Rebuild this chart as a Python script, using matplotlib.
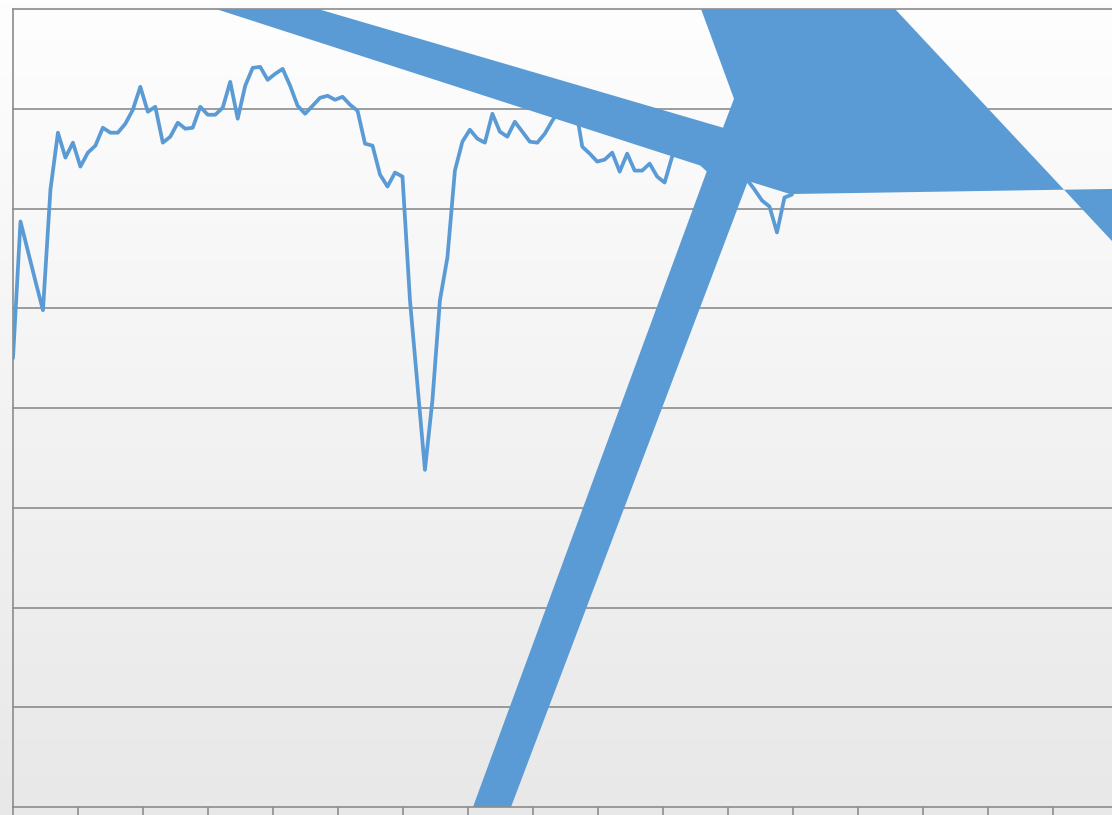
import numpy as np
import matplotlib
matplotlib.use("Agg")
import matplotlib.pyplot as plt
from matplotlib.patches import Polygon

# ---- data ----
series_values = [
    4.50, 5.87, 5.57, 5.27, 4.98, 6.19, 6.76, 6.51, 6.66, 6.42,
    6.56, 6.63, 6.81, 6.76, 6.76, 6.85, 6.99, 7.22, 6.97, 7.02,
    6.66, 6.72, 6.86, 6.80, 6.81, 7.02, 6.94, 6.94, 7.01, 7.27,
    6.90, 7.23, 7.41, 7.42, 7.29, 7.35, 7.40, 7.23, 7.03, 6.95,
    7.03, 7.11, 7.13, 7.09, 7.12, 7.04, 6.98, 6.65, 6.63, 6.34,
    6.22, 6.36, 6.32, 5.08, 4.23, 3.38, 4.08, 5.08, 5.51, 6.38,
    6.67, 6.79, 6.70, 6.66, 6.95, 6.77, 6.72, 6.87, 6.77, 6.67,
    6.66, 6.75, 6.88, 6.99, 7.04, 7.07, 6.62, 6.55, 6.47, 6.49,
    6.56, 6.37, 6.55, 6.38, 6.38, 6.45, 6.32, 6.26, 6.52, 6.59,
    6.64, 6.57, 6.44, 6.37, 6.41, 6.37, 6.44, 6.39, 6.29, 6.19,
    6.08, 6.02, 5.76, 6.11, 6.14,
]
series_index = list(range(len(series_values)))

# outline of the large filled artefact shape (x in point-index units, y in value units)
shape_x = [27.10, 40.72, 94.79, 96.26, 91.86, 117.76, 158.48, 158.48,
           103.74, 98.13, 66.49, 61.41, 92.79]
shape_y = [8.00, 8.00, 6.81, 7.10, 8.00, 8.00, 4.73, 6.21,
           6.145, 6.276, 0.00, 0.00, 6.406]

y_gridlines = [1, 2, 3, 4, 5, 6, 7, 8]
x_tick_step = 8.68

BLUE = "#5B9BD5"
GRID = "#8C8C8C"

W, H = 1112, 815
fig = plt.figure(figsize=(W / 100, H / 100), dpi=100)

# background gradient for the whole figure
bg = fig.add_axes([0, 0, 1, 1], zorder=-10)
grad = np.linspace(254, 232, 256)[:, None] / 255.0
bg.imshow(np.dstack([grad, grad, grad]), aspect="auto", extent=[0, 1, 0, 1])
bg.set_axis_off()

left = 13 / W
bottom = (H - 807) / H
top = (H - 9) / H
ax = fig.add_axes([left, bottom, 1 - left, top - bottom])
ax.set_facecolor("none")

ax.set_xlim(0, (W - 13) / 7.49)
ax.set_ylim(0, 8)

for g in y_gridlines:
    ax.axhline(g, color=GRID, lw=1.2, zorder=1, clip_on=False)

ax.plot(series_index, series_values, color=BLUE, lw=2.7, zorder=3,
        solid_joinstyle="round", solid_capstyle="round")

poly = Polygon(np.column_stack([shape_x, shape_y]), closed=True,
               facecolor=BLUE, edgecolor="none", zorder=4)
ax.add_patch(poly)

for s in ["top", "right"]:
    ax.spines[s].set_visible(False)
for s in ["left", "bottom"]:
    ax.spines[s].set_color(GRID)
    ax.spines[s].set_linewidth(1.2)
    ax.spines[s].set_zorder(5)

ax.set_yticks([])
ax.set_xticks(np.arange(0, 147, x_tick_step))
ax.tick_params(axis="x", direction="out", length=6, width=1.2, color=GRID,
               labelbottom=False)

fig.savefig("out.png", dpi=100)
